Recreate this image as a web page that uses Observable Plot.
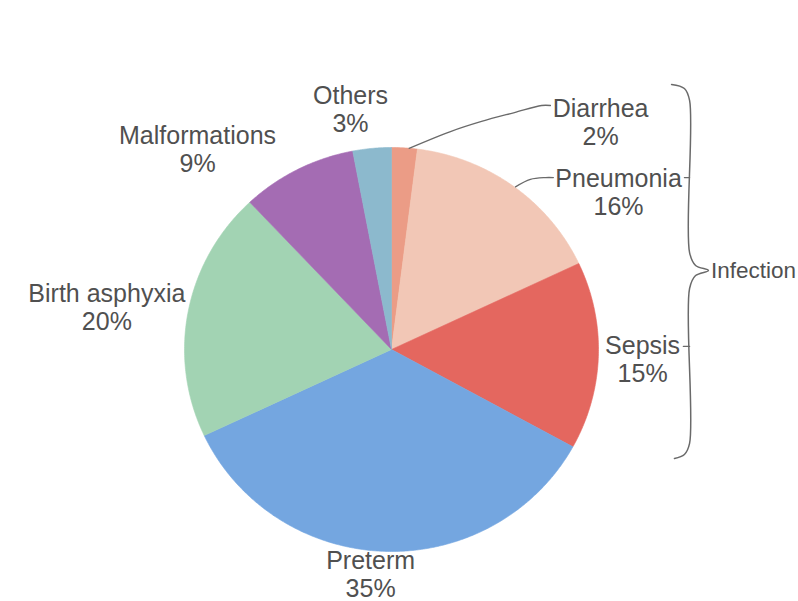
<!DOCTYPE html>
<html>
<head>
<meta charset="utf-8">
<script src="https://cdn.jsdelivr.net/npm/d3@7"></script>
<script src="https://cdn.jsdelivr.net/npm/@observablehq/plot@0.6"></script>
<style>
  html, body { margin: 0; padding: 0; background: #fff; overflow: hidden; }
  #chart svg { display: block; font-family: "Liberation Sans", Arial, sans-serif; }
</style>
</head>
<body>
<div id="chart"></div>
<script>
// Causes of neonatal death, share of total (%), clockwise from 12 o'clock
const causes = ["Diarrhea", "Pneumonia", "Sepsis", "Preterm", "Birth asphyxia", "Malformations", "Others"];
const shares = [2, 16, 15, 35, 20, 9, 3];
const sliceColors = ["#eb9c86", "#f2c7b6", "#e4675f", "#74a6e0", "#a2d3b3", "#a46cb3", "#8cb9cd"];

// Label placement (unit-circle coordinates, pie centre at 0,0)
const labelAt = {
  "Diarrhea":       [1.010, 1.124],
  "Pneumonia":      [1.097, 0.782],
  "Sepsis":         [1.213, -0.045],
  "Preterm":        [-0.101, -1.112],
  "Birth asphyxia": [-1.375, 0.208],
  "Malformations":  [-0.937, 0.990],
  "Others":         [-0.198, 1.188]
};

// Build each wedge as a closed polygon: centre, arc, centre
const total = d3.sum(shares);
const wedgePts = [];
let acc = 0;
causes.forEach((cause, i) => {
  const a0 = (acc / total) * 2 * Math.PI;
  acc += shares[i];
  const a1 = (acc / total) * 2 * Math.PI;
  const n = Math.max(2, Math.ceil((a1 - a0) / (Math.PI / 360)));
  wedgePts.push({cause, x: 0, y: 0});
  for (let k = 0; k <= n; k++) {
    const a = a0 + (a1 - a0) * k / n;
    wedgePts.push({cause, x: Math.sin(a), y: Math.cos(a)});
  }
  wedgePts.push({cause, x: 0, y: 0});
});

const labels = causes.map((cause, i) => ({
  x: labelAt[cause][0],
  y: labelAt[cause][1],
  text: `${cause}\n${shares[i]}%`
}));

// Leader lines from the two small upper-right labels to their wedges
const leaders = [
  {id: "Diarrhea", pts: [[0.085, 0.996], [0.285, 1.079], [0.435, 1.129], [0.594, 1.173], [0.725, 1.208], [0.768, 1.208]]},
  {id: "Pneumonia", pts: [[0.599, 0.805], [0.671, 0.842], [0.744, 0.851], [0.782, 0.851]]},
  {id: "dashP", pts: [[1.415, 0.851], [1.440, 0.851]]},
  {id: "dashS", pts: [[1.410, 0.015], [1.440, 0.015]]}
].flatMap(d => d.pts.map(([x, y]) => ({id: d.id, x, y})));

// Curly brace grouping the infection causes
const brace = [
  [1.353, 1.312], [1.415, 1.292], [1.440, 1.233], [1.440, 0.480], [1.469, 0.416],
  [1.531, 0.391], [1.469, 0.366], [1.440, 0.302], [1.440, -0.465], [1.415, -0.520], [1.367, -0.540]
].map(([x, y]) => ({x, y}));

const chart = Plot.plot({
  width: 798,
  height: 601,
  marginLeft: 184,
  marginRight: 200,
  marginTop: 147,
  marginBottom: 50,
  x: {domain: [-1, 1], axis: null},
  y: {domain: [-1, 1], axis: null},
  color: {domain: causes, range: sliceColors},
  marks: [
    Plot.line(wedgePts, {x: "x", y: "y", z: "cause", fill: "cause", stroke: "cause", strokeWidth: 0.6, curve: "linear"}),
    Plot.line(leaders, {x: "x", y: "y", z: "id", stroke: "#6a6a6a", strokeWidth: 1.3, curve: "catmull-rom"}),
    Plot.line(brace, {x: "x", y: "y", stroke: "#6a6a6a", strokeWidth: 1.5, curve: "catmull-rom"}),
    Plot.text(labels, {x: "x", y: "y", text: "text", fontSize: 25, lineHeight: 1.12, fill: "#505050"}),
    Plot.text(["Infection"], {x: 1.543, y: 0.391, text: d => d, textAnchor: "start", fontSize: 22.5, fill: "#505050"})
  ]
});

document.getElementById("chart").append(chart);
</script>
</body>
</html>
